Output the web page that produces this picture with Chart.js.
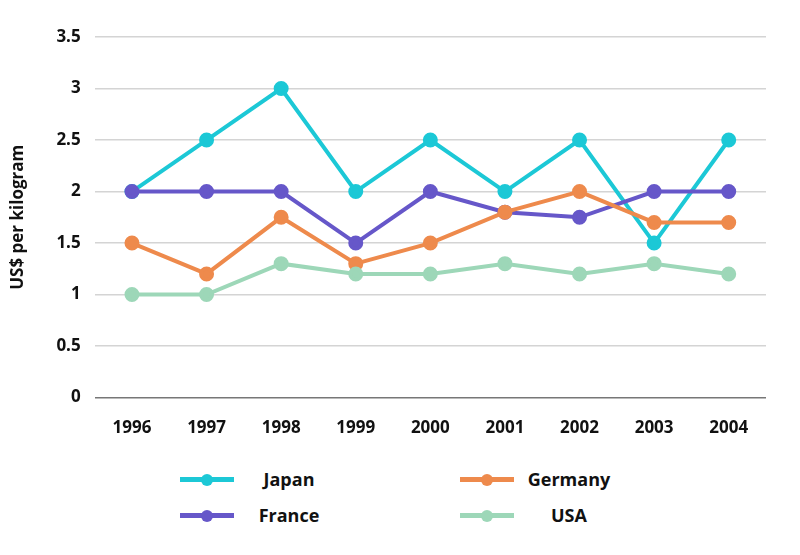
<!DOCTYPE html>
<html>
<head>
<meta charset="utf-8">
<script src="https://cdn.jsdelivr.net/npm/chart.js@4"></script>
<style>
  body { margin: 0; background: #fff; font-family: "Open Sans", sans-serif; }
  #wrap { position: relative; width: 800px; height: 458px; }
  #legend { position: absolute; left: 0; top: 464px; width: 800px; }
  .item { position: absolute; height: 30px; display: flex; align-items: center; }
  .item .sw { position: relative; width: 54px; height: 30px; }
  .item .sw .ln { position: absolute; left: 0; right: 0; top: 13px; height: 5px; }
  .item .sw .dt { position: absolute; left: 21px; top: 9.5px; width: 12px; height: 12px; border-radius: 50%; }
  .item .tx { width: 110px; text-align: center; font-weight: 700; font-size: 18px; color: #111; }
</style>
</head>
<body>
<div id="wrap"><canvas id="chart" width="800" height="458"></canvas></div>
<div id="legend"></div>
<script>
var years = ['1996', '1997', '1998', '1999', '2000', '2001', '2002', '2003', '2004'];
var japan = [2, 2.5, 3, 2, 2.5, 2, 2.5, 1.5, 2.5];
var germany = [1.5, 1.2, 1.75, 1.3, 1.5, 1.8, 2, 1.7, 1.7];
var france = [2, 2, 2, 1.5, 2, 1.8, 1.75, 2, 2];
var usa = [1, 1, 1.3, 1.2, 1.2, 1.3, 1.2, 1.3, 1.2];

function series(label, data, color) {
    return {
        label: label,
        data: data,
        borderColor: color,
        backgroundColor: color,
        borderWidth: 4,
        pointRadius: 5.5,
        pointHoverRadius: 5.5,
        tension: 0
    };
}

var ctx = document.getElementById('chart').getContext('2d');
var chart = new Chart(ctx, {
    type: 'line',
    data: {
        labels: years,
        datasets: [
            series('USA', usa, '#9dd7b8'),
            series('Germany', germany, '#ee8a4c'),
            series('France', france, '#6657c9'),
            series('Japan', japan, '#1cc8d6')
        ]
    },
    options: {
        responsive: false,
        animation: false,
        layout: { padding: { top: 37, right: 34, left: 4 } },
        plugins: {
            legend: { display: false },
            tooltip: { enabled: false }
        },
        scales: {
            x: {
                offset: true,
                grid: { display: false, drawTicks: false },
                border: { display: false },
                ticks: {
                    padding: 20,
                    color: '#111',
                    font: { family: 'Open Sans', size: 17, weight: 'bold' }
                }
            },
            y: {
                min: 0,
                max: 3.5,
                grid: {
                    color: function(c) { return c.tick.value === 0 ? '#777' : '#d4d4d4'; },
                    lineWidth: 1.5,
                    drawTicks: false
                },
                border: { display: false },
                ticks: {
                    stepSize: 0.5,
                    padding: 14,
                    color: '#111',
                    font: { family: 'Open Sans', size: 17, weight: 'bold' },
                    callback: function(v) { return String(v); }
                },
                title: {
                    display: true,
                    text: 'US$ per kilogram',
                    color: '#111',
                    padding: { bottom: 14 },
                    font: { family: 'Open Sans', size: 17, weight: 'bold' }
                }
            }
        }
    }
});

// legend, two columns, built from the chart's datasets
var legendOrder = [['Japan', 180, 0], ['Germany', 460, 0], ['France', 180, 36], ['USA', 460, 36]];
var legendBox = document.getElementById('legend');
legendOrder.forEach(function(entry) {
    var ds = chart.data.datasets.find(function(d) { return d.label === entry[0]; });
    var item = document.createElement('div');
    item.className = 'item';
    item.style.left = entry[1] + 'px';
    item.style.top = entry[2] + 'px';
    item.innerHTML = '<div class="sw"><div class="ln" style="background:' + ds.borderColor + '"></div>' +
        '<div class="dt" style="background:' + ds.borderColor + '"></div></div>' +
        '<div class="tx">' + ds.label + '</div>';
    legendBox.appendChild(item);
});
</script>
</body>
</html>
